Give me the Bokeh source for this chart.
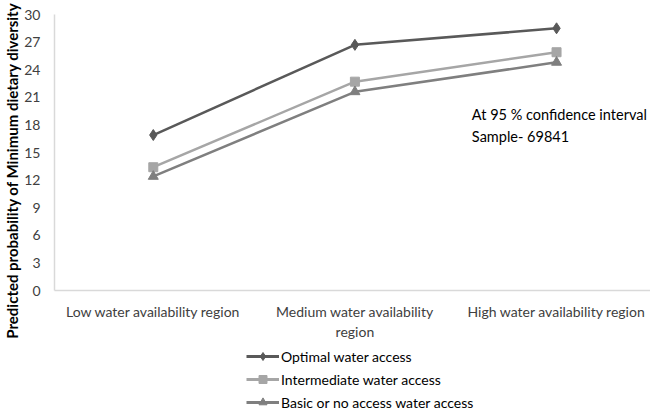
from bokeh.plotting import figure
from bokeh.layouts import column
from bokeh.models import Range1d, FixedTicker, Legend, LegendItem, Label
from bokeh.embed import file_html
from bokeh.resources import INLINE

categories = ["Low water availability region", "Medium water availability\nregion", "High water availability region"]
series_names = ["Optimal water access", "Intermediate water access", "Basic or no access water access"]
optimal = [16.9, 26.7, 28.5]
intermediate = [13.4, 22.7, 25.9]
basic = [12.4, 21.6, 24.8]
y_ticks = [0, 3, 6, 9, 12, 15, 18, 21, 24, 27, 30]

FONT = "Lato"
xs = list(range(len(categories)))
series = [optimal, intermediate, basic]
colors = ["#595959", "#a6a6a6", "#7f7f7f"]
markers = ["diamond", "square", "triangle"]
msizes = [11, 9, 10]

p = figure(width=650, height=342, output_backend="svg", toolbar_location=None,
           x_range=Range1d(-0.49, 2.466), y_range=Range1d(0, 30),
           min_border_left=47, min_border_top=14, min_border_right=0, min_border_bottom=52)
p.outline_line_color = None
p.xgrid.grid_line_color = None
p.ygrid.grid_line_color = None

p.xaxis.ticker = FixedTicker(ticks=xs)
p.xaxis.major_label_overrides = {i: c for i, c in enumerate(categories)}
p.yaxis.ticker = FixedTicker(ticks=y_ticks)
for ax in (p.xaxis, p.yaxis):
    ax.axis_line_color = "#d9d9d9"
    ax.axis_line_width = 1.5
    ax.major_tick_line_color = None
    ax.minor_tick_line_color = None
    ax.major_tick_out = 0
    ax.major_label_text_font = FONT
    ax.major_label_text_font_size = "14px"
    ax.major_label_text_color = "#404040"
p.xaxis.major_label_standoff = 12
p.yaxis.major_label_standoff = 14
p.yaxis.axis_label = "Predicted probability of Minimum dietary diversity" + "\u00a0" * 10
p.yaxis.axis_label_text_font = FONT
p.yaxis.axis_label_text_font_size = "15px"
p.yaxis.axis_label_text_font_style = "bold"
p.yaxis.axis_label_text_color = "#000000"
p.yaxis.axis_label_standoff = 0

for vals, c, m, s in zip(series, colors, markers, msizes):
    p.line(xs, vals, line_color=c, line_width=2.5)
    p.scatter(xs, vals, marker=m, size=s, color=c)

p.add_layout(Label(x=1.58, y=19.1, text="At 95 % confidence interval", text_font=FONT,
                   text_font_size="14.5px", text_baseline="middle", text_color="#000000"))
p.add_layout(Label(x=1.58, y=16.7, text="Sample- 69841", text_font=FONT,
                   text_font_size="14.5px", text_baseline="middle", text_color="#000000"))

# legend lives in its own strip below the chart
lg = figure(width=650, height=70, output_backend="svg", toolbar_location=None,
            x_range=Range1d(-0.49, 2.466), y_range=Range1d(100, 101),
            min_border_left=0, min_border_top=0, min_border_right=0, min_border_bottom=0)
lg.axis.visible = False
lg.grid.visible = False
lg.outline_line_color = None
items = []
for name, vals, c, m, s in zip(series_names, series, colors, markers, msizes):
    r1 = lg.line(xs, vals, line_color=c, line_width=3)
    r2 = lg.scatter(xs, vals, marker=m, size=s, color=c)
    items.append(LegendItem(label=name, renderers=[r1, r2]))
legend = Legend(items=items, location=(192, 0), orientation="vertical",
                label_text_font=FONT, label_text_font_size="14px", label_text_color="#000000",
                glyph_width=33, glyph_height=20, label_height=20, spacing=3, padding=0,
                margin=0, border_line_color=None, background_fill_alpha=0, label_standoff=2)
lg.add_layout(legend, "center")

layout = column(p, lg, spacing=0)
open("out.html", "w").write(file_html(layout, INLINE))
